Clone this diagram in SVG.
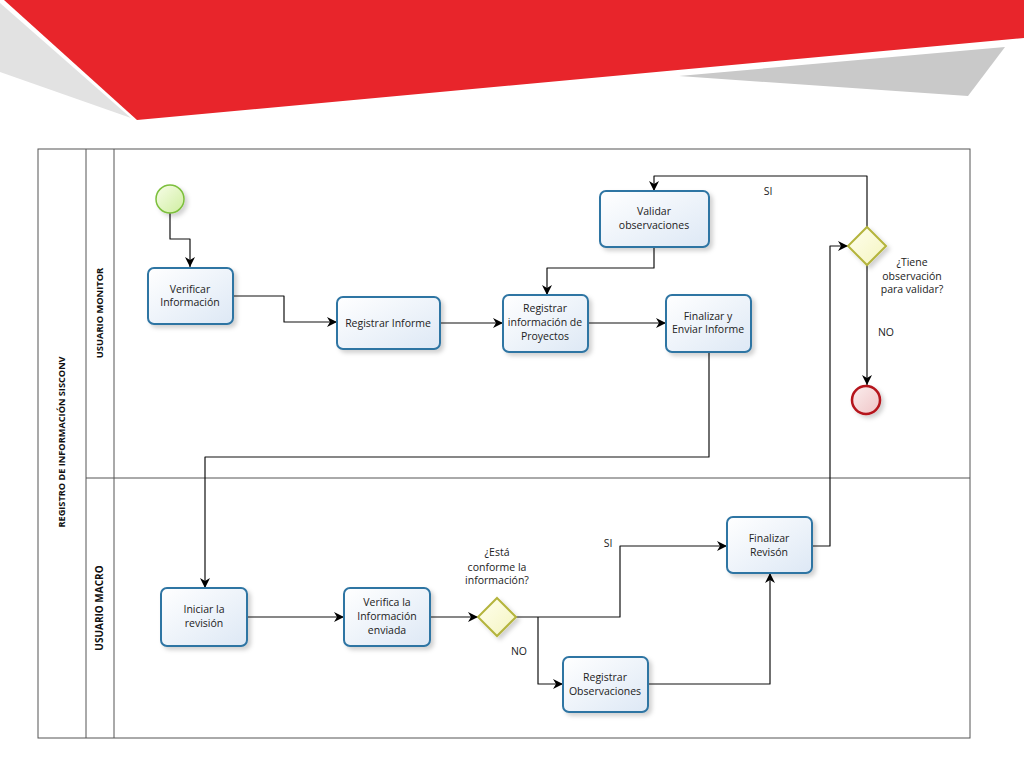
<svg xmlns="http://www.w3.org/2000/svg" width="1024" height="768" viewBox="0 0 1024 768">
<defs>
<linearGradient id="taskFill" x1="0" y1="0" x2="1" y2="1">
<stop offset="0" stop-color="#ffffff"/>
<stop offset="1" stop-color="#dde8f5"/>
</linearGradient>
<linearGradient id="startFill" x1="0" y1="0" x2="1" y2="1">
<stop offset="0" stop-color="#f7fde8"/>
<stop offset="1" stop-color="#cfeea0"/>
</linearGradient>
<linearGradient id="endFill" x1="0" y1="0" x2="1" y2="1">
<stop offset="0" stop-color="#fbeeee"/>
<stop offset="1" stop-color="#efc4c6"/>
</linearGradient>
<linearGradient id="gwFill" x1="0" y1="0" x2="1" y2="1">
<stop offset="0" stop-color="#ffffee"/>
<stop offset="1" stop-color="#f4f4c0"/>
</linearGradient>
<filter id="shadow" x="-20%" y="-20%" width="150%" height="150%">
<feDropShadow dx="3" dy="3" stdDeviation="2" flood-color="#000" flood-opacity="0.18"/>
</filter>
<marker id="arrow" viewBox="0 0 10 10" refX="10" refY="5" markerWidth="10" markerHeight="10" markerUnits="userSpaceOnUse" orient="auto">
<path d="M0,0 L10,5 L0,10 L3,5 z" fill="#000"/>
</marker>
<style>
.task{fill:url(#taskFill);stroke:#2f74a3;stroke-width:2;filter:url(#shadow)}
.gw{fill:url(#gwFill);stroke:#b4b43c;stroke-width:2;filter:url(#shadow)}
.lbl{font-family:"Open Sans","Noto Sans",sans-serif;font-size:10.5px;fill:#222;text-anchor:middle}
.lane{font-family:"Open Sans","Noto Sans",sans-serif;font-size:9.3px;font-weight:bold;fill:#111;text-anchor:middle}
.pool{fill:none;stroke:#555;stroke-width:1}
.conn{fill:none;stroke:#111;stroke-width:1.2;stroke-linejoin:round;marker-end:url(#arrow)}
</style>
</defs>

<g id="banner">
<polygon points="0,3 131,118 0,72" fill="#e2e2e2"/>
<polygon points="679,76 1005,47 968,96" fill="#c9c9c9"/>
<polygon points="4,0 1024,0 1024,38 137,120" fill="#e8252b"/>
</g>

<g id="pool">
<rect class="pool" x="38" y="149" width="932" height="589"/>
<line class="pool" x1="86" y1="149" x2="86" y2="738"/>
<line class="pool" x1="114" y1="149" x2="114" y2="738"/>
<line class="pool" x1="86" y1="478" x2="970" y2="478"/>
<text class="lane" transform="translate(65,442) rotate(-90)" style="font-size:9.2px">REGISTRO DE INFORMACIÓN SISCONV</text>
<text class="lane" transform="translate(103,313) rotate(-90)">USUARIO MONITOR</text>
<text class="lane" transform="translate(103,608) rotate(-90)" style="font-size:10px">USUARIO MACRO</text>
</g>

<g id="connectors">
<path class="conn" d="M170,213 V239 H190 V267"/>
<path class="conn" d="M233,296 H284 V322 H337"/>
<path class="conn" d="M440,323 H503"/>
<path class="conn" d="M588,323 H666"/>
<path class="conn" d="M654,247 V268 H547 V295"/>
<path class="conn" d="M867,227 V176 H654 V191"/>
<path class="conn" d="M867,265 V385"/>
<path class="conn" d="M709,352 V457 H205 V588"/>
<path class="conn" d="M247,617 H344"/>
<path class="conn" d="M430,617 H478"/>
<path class="conn" d="M515,617 H620 V546 H727"/>
<path class="conn" d="M538,617 V684 H563"/>
<path class="conn" d="M648,684 H770 V573"/>
<path class="conn" d="M812,546 H830 V246 H848"/>
<text class="lbl" x="768" y="195">SI</text>
<text class="lbl" x="886" y="336">NO</text>
<text class="lbl" x="608" y="547">SI</text>
<text class="lbl" x="519" y="655">NO</text>
</g>

<g id="start">
<circle cx="170" cy="199" r="14" fill="url(#startFill)" stroke="#7cbf3c" stroke-width="1.5" filter="url(#shadow)"/>
</g>

<g id="verificar-informacion">
<rect class="task" x="148" y="268" width="85" height="56" rx="6"/>
<text class="lbl" x="190" y="293">Verificar</text>
<text class="lbl" x="190" y="306">Información</text>
</g>

<g id="registrar-informe">
<rect class="task" x="337" y="297" width="103" height="52" rx="6"/>
<text class="lbl" x="388" y="327">Registrar Informe</text>
</g>

<g id="validar-observaciones">
<rect class="task" x="600" y="191" width="109" height="56" rx="6"/>
<text class="lbl" x="654" y="215">Validar</text>
<text class="lbl" x="654" y="229">observaciones</text>
</g>

<g id="registrar-informacion-proyectos">
<rect class="task" x="503" y="295" width="85" height="57" rx="6"/>
<text class="lbl" x="545" y="312">Registrar</text>
<text class="lbl" x="545" y="326">información de</text>
<text class="lbl" x="545" y="340">Proyectos</text>
</g>

<g id="finalizar-enviar">
<rect class="task" x="666" y="295" width="85" height="57" rx="6"/>
<text class="lbl" x="708" y="320">Finalizar y</text>
<text class="lbl" x="708" y="333">Enviar Informe</text>
</g>

<g id="gateway-observacion">
<polygon class="gw" points="867,227 886,246 867,265 848,246"/>
<text class="lbl" x="912" y="266">¿Tiene</text>
<text class="lbl" x="912" y="280">observación</text>
<text class="lbl" x="912" y="293">para validar?</text>
</g>

<g id="end">
<circle cx="866" cy="400" r="14" fill="url(#endFill)" stroke="#b5121b" stroke-width="2.5" filter="url(#shadow)"/>
</g>

<g id="iniciar-revision">
<rect class="task" x="161" y="588" width="86" height="58" rx="6"/>
<text class="lbl" x="204" y="613">Iniciar la</text>
<text class="lbl" x="204" y="627">revisión</text>
</g>

<g id="verifica-informacion">
<rect class="task" x="344" y="588" width="86" height="58" rx="6"/>
<text class="lbl" x="387" y="606">Verifica la</text>
<text class="lbl" x="387" y="620">Información</text>
<text class="lbl" x="387" y="634">enviada</text>
</g>

<g id="gateway-conforme">
<polygon class="gw" points="497,598 516,617 497,636 478,617"/>
<text class="lbl" x="497" y="556">¿Está</text>
<text class="lbl" x="497" y="571">conforme la</text>
<text class="lbl" x="497" y="584">información?</text>
</g>

<g id="registrar-observaciones">
<rect class="task" x="563" y="657" width="85" height="55" rx="6"/>
<text class="lbl" x="605" y="681">Registrar</text>
<text class="lbl" x="605" y="695">Observaciones</text>
</g>

<g id="finalizar-revision">
<rect class="task" x="727" y="517" width="85" height="56" rx="6"/>
<text class="lbl" x="769" y="542">Finalizar</text>
<text class="lbl" x="769" y="556">Revisón</text>
</g>
</svg>
